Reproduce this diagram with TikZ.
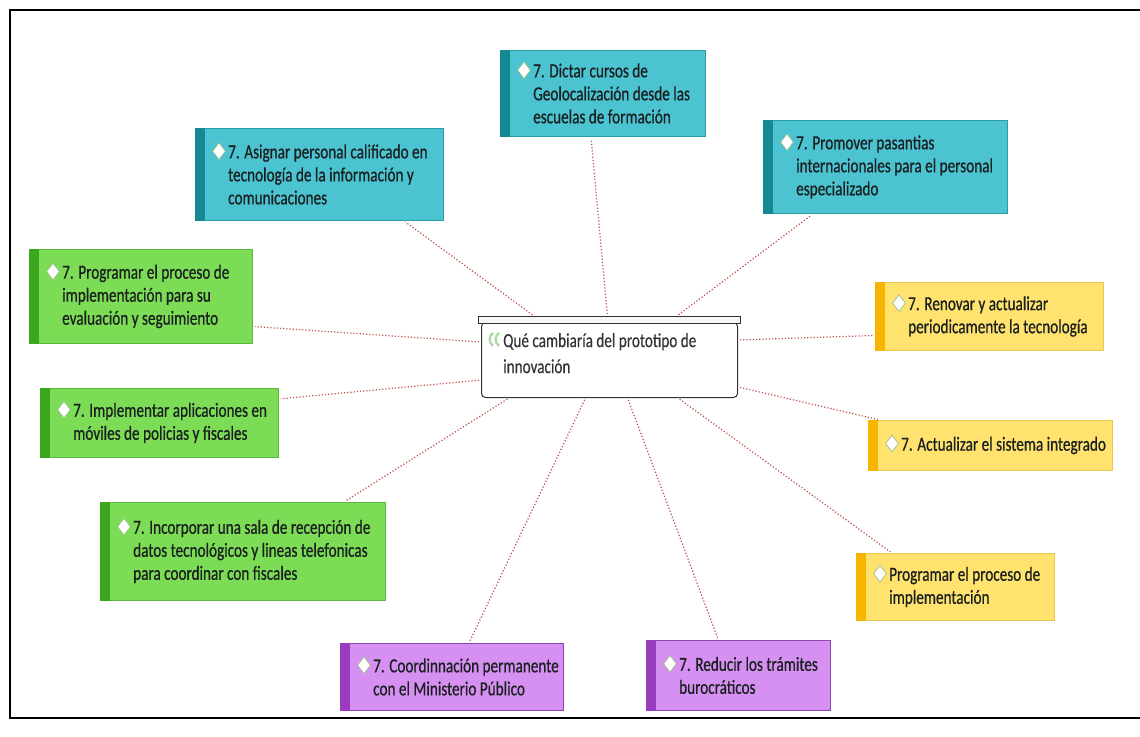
\documentclass[tikz,border=0pt]{standalone}
\usepackage{fontspec}
\newfontfamily\boxfont[FakeStretch=0.76,FakeBold=0.6]{Carlito}
\newfontfamily\cfont[FakeStretch=0.76,FakeBold=0.3]{Carlito}
\usetikzlibrary{shapes.geometric,calc}
\definecolor{tealF}{HTML}{4CC3D1}
\definecolor{tealB}{HTML}{2A9BA8}
\definecolor{tealS}{HTML}{168893}
\definecolor{greenF}{HTML}{7DDC55}
\definecolor{greenB}{HTML}{5BB83A}
\definecolor{greenS}{HTML}{3AA71E}
\definecolor{yelF}{HTML}{FFE36E}
\definecolor{yelB}{HTML}{E6C84E}
\definecolor{yelS}{HTML}{F7B500}
\definecolor{purF}{HTML}{D690F2}
\definecolor{purB}{HTML}{8E45AD}
\definecolor{purS}{HTML}{9A3CC0}
\definecolor{connC}{HTML}{C0504D}
\definecolor{txtC}{HTML}{1A2020}
\definecolor{iconC}{HTML}{A9D9A0}
\definecolor{diaC}{HTML}{9DBF8A}
\tikzset{
  box/.style={draw=#1B, fill=#1F, line width=0.9pt, anchor=north west, inner sep=0pt},
  txt/.style={font=\boxfont\fontsize{20}{23}\selectfont, text=txtC, align=left, anchor=west, inner sep=0pt},
  dia/.style={diamond, draw=diaC, fill=white, inner sep=0pt, minimum width=13pt, minimum height=17pt, line width=0.7pt},
  conn/.style={draw=connC, dotted, line width=1.2pt, shorten <=2pt, shorten >=2pt},
  ctxt/.style={font=\cfont\fontsize{20}{26}\selectfont, text=black!80, align=left, anchor=north west, inner sep=0pt}
}
\newcommand\pbox[7]{%
  \node[box=#2, minimum width=#5pt, minimum height=#6pt] (#1) at (#3,#4) {};
  \fill[#2S] (#1.north west) rectangle ([xshift=10pt]#1.south west);
  \node[txt] (#1t) at ([xshift=33pt]#1.west) {#7};
  \node[dia] (#1d) at ([xshift=-9pt,yshift=-7pt]#1t.north west) {};
}
\begin{document}
\begin{tikzpicture}[x=1pt,y=-1pt]
\useasboundingbox (0,0) rectangle (1140,736);
\fill[white] (0,0) rectangle (1140,736);
\draw[line width=2pt, black] (1160,10) -- (10,10) -- (10,718) -- (1160,718);

% center
\node[draw=black!80, fill=white, rounded corners=4pt, minimum width=256pt, minimum height=75pt, anchor=north west, inner sep=0pt, line width=1pt] (c) at (481,322) {};
\node[draw=black!80, fill=gray!8, minimum width=262pt, minimum height=7pt, anchor=north west, inner sep=0pt, line width=0.9pt] (cb) at (478,316) {};
\node[ctxt] (ct) at (503,333) {Qué cambiaría del prototipo de\\innovación};
\draw[draw=iconC, line width=2.2pt] (493,346) arc[start angle=125, end angle=235, radius=8];
\draw[draw=iconC, line width=2.2pt] (499,346) arc[start angle=125, end angle=235, radius=8];

% boxes
\pbox{n1}{teal}{195}{128}{248}{92}{7. Asignar personal calificado en\\tecnología de la información y\\comunicaciones}
\pbox{n2}{teal}{500}{50}{205}{86}{7. Dictar cursos de\\Geolocalización desde las\\escuelas de formación}
\pbox{n3}{teal}{763}{120}{244}{93}{7. Promover pasantias\\internacionales para el personal\\especializado}
\pbox{n4}{green}{29}{249}{223}{94}{7. Programar el proceso de\\implementación para su\\evaluación y seguimiento}
\pbox{n5}{yel}{875}{282}{228}{68}{7. Renovar y actualizar\\periodicamente la tecnología}
\pbox{n7}{green}{40}{388}{238}{69}{7. Implementar aplicaciones en\\móviles de policias y fiscales}
\pbox{n8}{yel}{868}{420}{244}{50}{7. Actualizar el sistema integrado}
\pbox{n9}{green}{100}{502}{285}{98}{7. Incorporar una sala de recepción de\\datos tecnológicos y lineas telefonicas\\para coordinar con fiscales}
\pbox{n10}{yel}{856}{553}{198}{67}{Programar el proceso de\\implementación}
\pbox{n11}{pur}{340}{643}{223}{67}{7. Coordinnación permanente\\con el Ministerio Público}
\pbox{n12}{pur}{646}{640}{184}{70}{7. Reducir los trámites\\burocráticos}

% connectors
\draw[conn] ([xshift=56pt]cb.north west) -- ([xshift=-40pt]n1.south east);
\draw[conn] ([xshift=-2pt]cb.north) -- ([xshift=-12pt]n2.south);
\draw[conn] ([xshift=-64pt]cb.north east) -- ([xshift=50pt]n3.south west);
\draw[conn] ([yshift=-20pt]c.north west) -- ([yshift=-30pt]n4.east);
\draw[conn] ([yshift=-18pt]c.north east) -- ([yshift=-19pt]n5.west);
\draw[conn] ([yshift=-58pt]c.north west) -- ([yshift=24pt]n7.east);
\draw[conn] ([yshift=-65pt]c.north east) -- ([xshift=12pt]n8.north west);
\draw[conn] ([xshift=28pt]c.south west) -- ([xshift=-42pt]n9.north east);
\draw[conn] ([xshift=-60pt]c.south east) -- ([xshift=36pt]n10.north west);
\draw[conn] ([xshift=-24pt]c.south) -- ([xshift=17pt]n11.north);
\draw[conn] ([xshift=18pt]c.south) -- ([xshift=-20pt]n12.north);
\end{tikzpicture}
\end{document}
